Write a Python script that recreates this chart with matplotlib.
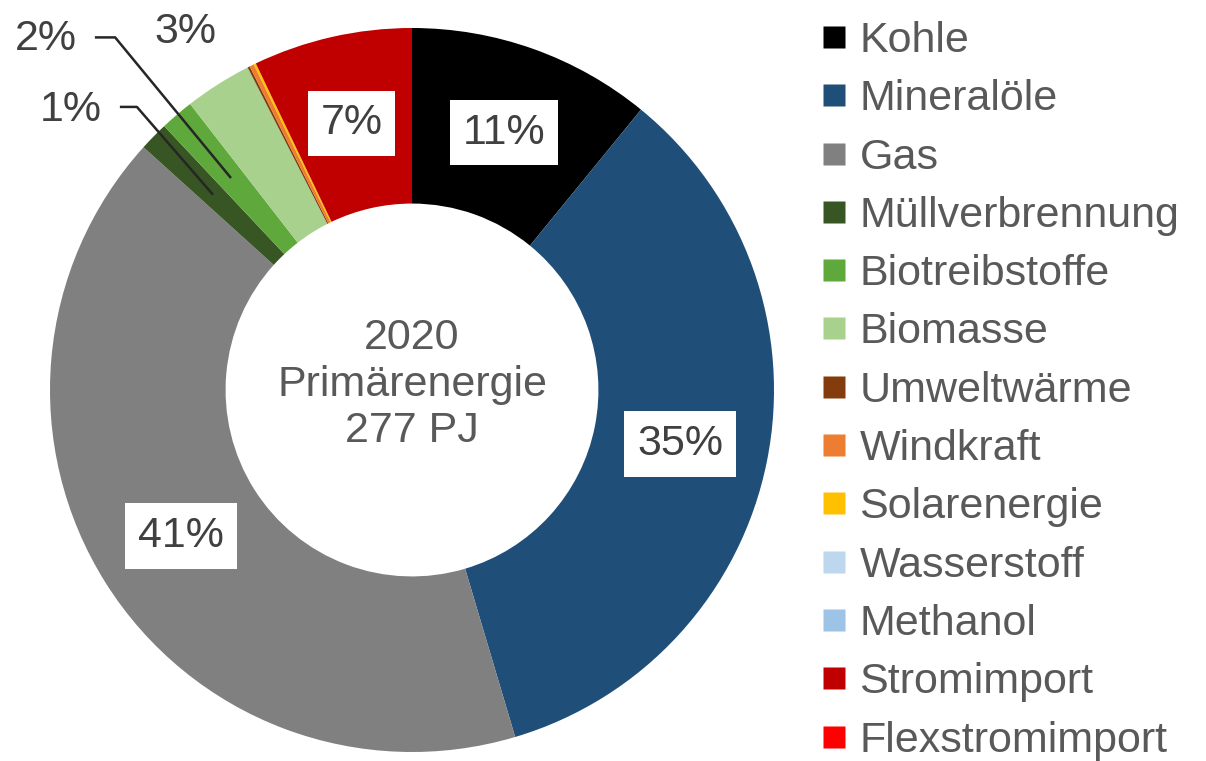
import numpy as np
import matplotlib
matplotlib.use('Agg')
import matplotlib.pyplot as plt
from matplotlib.lines import Line2D

plt.rcParams['font.family'] = ['Liberation Sans', 'DejaVu Sans']

# data (share of primary energy 2020, %)
categories = ['Kohle', 'Mineralöle', 'Gas', 'Müllverbrennung', 'Biotreibstoffe',
              'Biomasse', 'Umweltwärme', 'Windkraft', 'Solarenergie',
              'Wasserstoff', 'Methanol', 'Stromimport', 'Flexstromimport']
shares = [10.9, 34.5, 41.3, 1.3, 1.5, 3.0, 0.1, 0.2, 0.1, 0.0, 0.0, 7.1, 0.0]
colors = ['#000000', '#1F4E79', '#808080', '#375623', '#5FA83C', '#A9D18E',
          '#843C0C', '#ED7D31', '#FFC000', '#BDD7EE', '#9DC3E6', '#C00000', '#FF0000']
center_text = '2020\nPrimärenergie\n277 PJ'

# labels inside the ring
inner_labels = {'Kohle': '11%', 'Mineralöle': '35%', 'Gas': '41%', 'Stromimport': '7%'}
# labels outside with optional leader: (text, text xy, elbow xy or None)
outer_labels = {
    'Müllverbrennung': ('1%', (-0.942, 0.773), [(-0.807, 0.782), (-0.76, 0.782)]),
    'Biotreibstoffe': ('2%', (-1.011, 0.970), [(-0.876, 0.974), (-0.82, 0.974)]),
    'Biomasse': ('3%', None, None),
}

fig = plt.figure(figsize=(12.06, 7.61), dpi=100)
ax = fig.add_axes([50 / 1206, 9 / 761, 724 / 1206, 724 / 761])

wedges, _ = ax.pie(shares, colors=colors, startangle=90, counterclock=False,
                   radius=1.0, wedgeprops=dict(width=0.485, linewidth=0))
ax.set_xlim(-1, 1)
ax.set_ylim(-1, 1)
ax.set_aspect('equal')

txt_col = '#404040'
fs = 31
for w, name in zip(wedges, categories):
    mid = np.deg2rad((w.theta1 + w.theta2) / 2)
    if name in inner_labels:
        r = 0.755
        ax.text(r * np.cos(mid), r * np.sin(mid), inner_labels[name],
                ha='center', va='center', fontsize=fs, color=txt_col,
                bbox=dict(boxstyle='square,pad=0.3', fc='white', ec='none'))
    elif name in outer_labels:
        label, pos, elbow = outer_labels[name]
        if pos is None:
            r = 1.17
            ax.text(r * np.cos(mid), r * np.sin(mid), label, ha='center',
                    va='center', fontsize=fs, color=txt_col, clip_on=False)
        else:
            r = 0.77
            tip = (r * np.cos(mid), r * np.sin(mid))
            xs = [elbow[0][0], elbow[1][0], tip[0]]
            ys = [elbow[0][1], elbow[1][1], tip[1]]
            ax.plot(xs, ys, color='#262626', lw=1.8, solid_capstyle='butt')
            ax.text(pos[0], pos[1], label, ha='center', va='center',
                    fontsize=fs, color=txt_col, clip_on=False)

ax.text(0, 0.015, center_text, ha='center', va='center', fontsize=fs,
        color='#595959', linespacing=1.2)

handles = [Line2D([], [], marker='s', ls='none', markersize=16,
                  markerfacecolor=c, markeredgecolor='none') for c in colors]
fig.legend(handles, categories, loc='upper left', bbox_to_anchor=(822 / 1206, 1 - 21 / 761),
           frameon=False, fontsize=fs, labelcolor='#595959', handletextpad=0.32,
           labelspacing=0.425, borderpad=0, borderaxespad=0, handlelength=0.55)

fig.savefig('out.png', dpi=100)
